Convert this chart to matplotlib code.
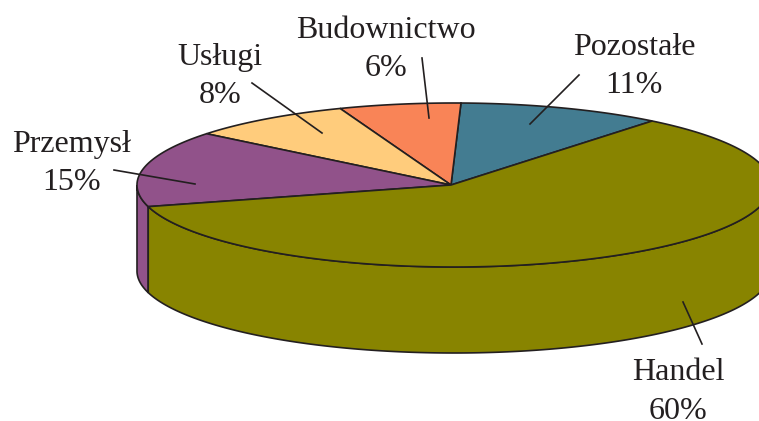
import numpy as np
import matplotlib
matplotlib.use("Agg")
import matplotlib.pyplot as plt

labels = ["Pozostałe", "Budownictwo", "Usługi", "Przemysł", "Handel"]
percent_text = [11, 6, 8, 15, 60]
# slice sizes as drawn, they differ a bit from the printed percentages
shares = [10.4, 6.2, 8.4, 15.0, 60.0]
colors = ["#437C91", "#F98457", "#FFCC7C", "#91528A", "#888400"]
# label centre and leader line, in image pixels
label_pos = [(634, 66.5), (386, 49.5), (220, 76.5), (72, 163.5), (678, 392)]
leaders = [((579, 75), (530, 124)), ((422, 58), (429, 118)), ((252, 83), (322, 133)),
           ((114, 170), (195, 184)), ((683, 302), (702, 344))]

cx, cy = 454, 185
apex = (451, 185)
rx, ry = 317, 82
depth = 86
start = 51.3
ink = "#231F20"


def rim(a0, a1, drop=0):
    t = np.radians(np.linspace(a0, a1, 200))
    return cx + rx * np.cos(t), cy - ry * np.sin(t) + drop


fig = plt.figure(figsize=(7.59, 4.21), dpi=100)
ax = fig.add_axes([0, 0, 1, 1])
ax.set_xlim(0, 759)
ax.set_ylim(421, 0)
ax.axis("off")

edges = start + np.cumsum([0] + shares) * 3.6

# side wall, only the front half shows
for i in range(len(shares)):
    a0 = max(edges[i], 180)
    a1 = min(edges[i + 1], 360)
    if a1 > a0:
        x, y = rim(a0, a1)
        xb, yb = rim(a0, a1, depth)
        ax.fill(np.r_[x, xb[::-1]], np.r_[y, yb[::-1]], facecolor=colors[i], edgecolor=ink, lw=1.2)

# top
for i in range(len(shares)):
    x, y = rim(edges[i], edges[i + 1])
    ax.fill(np.r_[apex[0], x], np.r_[apex[1], y], facecolor=colors[i], edgecolor=ink, lw=1.2)

for name, pct, pos in zip(labels, percent_text, label_pos):
    ax.text(pos[0], pos[1], f"{name}\n{pct}%", ha="center", va="center", family="Liberation Serif",
            fontsize=23, color=ink, linespacing=1.42)

for p, q in leaders:
    ax.plot([p[0], q[0]], [p[1], q[1]], color=ink, lw=1.2)

fig.savefig("out.png", dpi=100)
